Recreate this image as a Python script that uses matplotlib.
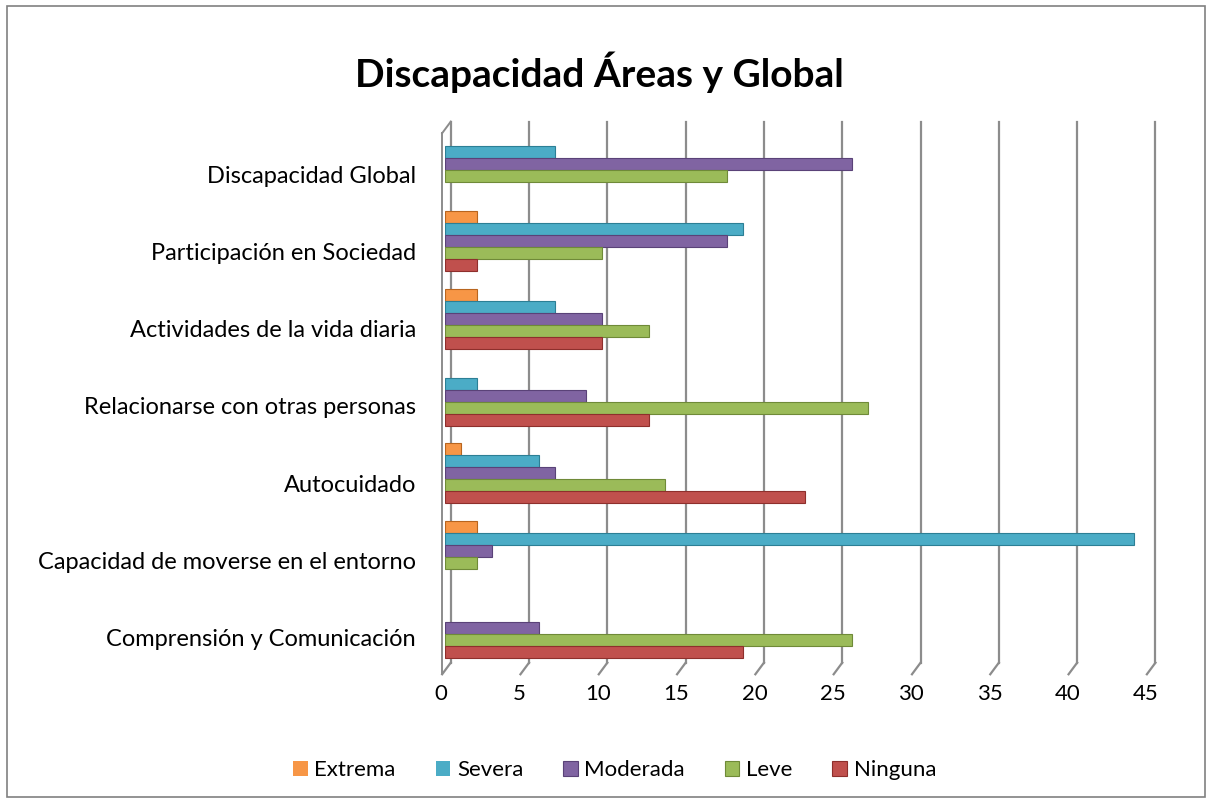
import matplotlib.pyplot as plt
import numpy as np
from matplotlib.patches import Rectangle
from matplotlib.transforms import ScaledTranslation

plt.rcParams['font.family'] = ['Lato', 'DejaVu Sans']

# --- datos ---
categorias = ['Comprensión y Comunicación', 'Capacidad de moverse en el entorno',
              'Autocuidado', 'Relacionarse con otras personas',
              'Actividades de la vida diaria', 'Participación en Sociedad',
              'Discapacidad Global']
series = ['Extrema', 'Severa', 'Moderada', 'Leve', 'Ninguna']
extrema = [0, 2, 1, 0, 2, 2, 0]
severa = [0, 44, 6, 2, 7, 19, 7]
moderada = [6, 3, 7, 9, 10, 18, 26]
leve = [26, 2, 14, 27, 13, 10, 18]
ninguna = [19, 0, 23, 13, 10, 2, 0]
colores = ['#F79646', '#4BACC6', '#8064A2', '#9BBB59', '#C0504D']
bordes = ['#B8651F', '#2C7F95', '#5A4278', '#6F8A38', '#8E2F2C']
xticks = list(range(0, 50, 5))

fig = plt.figure(figsize=(12.1, 8), dpi=100)
ax = fig.add_axes([0.368, 0.162, 0.585, 0.686])

y = np.arange(len(categorias))
h = 0.155
valores = [extrema, severa, moderada, leve, ninguna]
for k, (nombre, vals) in enumerate(zip(series, valores)):
    off = (2 - k) * h
    ax.barh(y + off, vals, height=h, color=colores[k], edgecolor=bordes[k],
            linewidth=[0.8 if v > 0 else 0 for v in vals], label=nombre, zorder=3)

ax.set_xlim(0, 45.2)
ax.set_ylim(-0.55, len(categorias) - 0.45)
ax.set_xticks(xticks)
ax.set_xticklabels([str(t) for t in xticks], fontsize=16)
ax.set_yticks(y)
ax.set_yticklabels(categorias, fontsize=17)
ax.tick_params(length=0)
ax.tick_params(axis='x', pad=10)
ax.tick_params(axis='y', pad=21)
for lab in ax.get_yticklabels():
    lab.set_transform(lab.get_transform() + ScaledTranslation(0, -10 / 100, fig.dpi_scale_trans))
for lab in ax.get_xticklabels():
    lab.set_transform(lab.get_transform() + ScaledTranslation(-4 / 100, 0, fig.dpi_scale_trans))

# rejilla estilo 3D (paredes)
for t in xticks:
    ax.plot([t + 0.35, t + 0.35], [-0.45, len(categorias) - 0.45],
            color='#8C8C8C', lw=1.6, zorder=1, clip_on=False)
    ax.plot([t - 0.2, t + 0.35], [-0.6, -0.45],
            color='#8C8C8C', lw=1.6, zorder=1, clip_on=False)
ax.plot([-0.2, -0.2], [-0.6, len(categorias) - 0.6], color='#8C8C8C', lw=1.4, clip_on=False)
ax.plot([-0.2, 0.35], [len(categorias) - 0.6, len(categorias) - 0.45],
        color='#8C8C8C', lw=1.4, clip_on=False)
for s in ax.spines.values():
    s.set_visible(False)

fig.text(0.495, 0.91, 'Discapacidad Áreas y Global', ha='center', va='center',
         fontsize=28, fontweight='bold')

fig.legend(loc='center', bbox_to_anchor=(0.508, 0.037), ncol=5, frameon=False,
           fontsize=16, handlelength=0.65, handleheight=0.65, handletextpad=0.3,
           columnspacing=1.8)

fig.patches.append(Rectangle((0.006, 0.004), 0.99, 0.988, transform=fig.transFigure,
                             fill=False, edgecolor='#808080', lw=1.2))

fig.savefig('out.png', dpi=100)
